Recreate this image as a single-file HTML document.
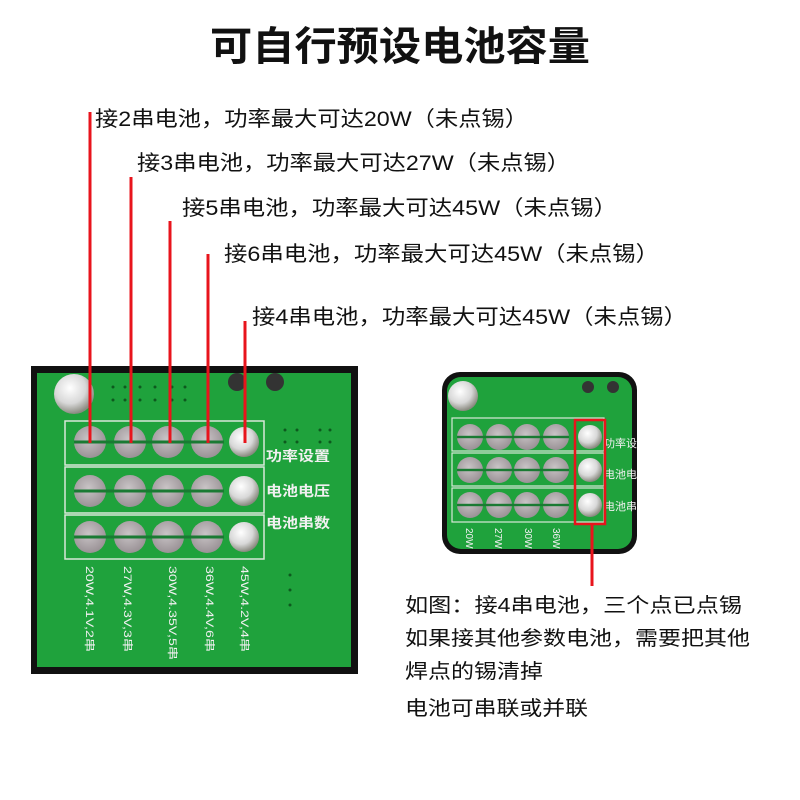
<!DOCTYPE html>
<html><head><meta charset="utf-8"><style>
html,body{margin:0;padding:0;background:#fff;}
svg{display:block;}
text{font-family:"Liberation Sans","Noto Sans CJK SC",sans-serif;}
</style></head><body>
<svg width="800" height="800" viewBox="0 0 800 800" xmlns="http://www.w3.org/2000/svg">
<defs>
<radialGradient id="pad" cx="45%" cy="40%" r="60%"><stop offset="0" stop-color="#c9c4c6"/><stop offset="1" stop-color="#9a9296"/></radialGradient>
<radialGradient id="sol" cx="40%" cy="35%" r="65%"><stop offset="0" stop-color="#ffffff"/><stop offset="0.6" stop-color="#d8d8d8"/><stop offset="1" stop-color="#8a8a80"/></radialGradient>
<g id="row1">
<circle cx="90" cy="0" r="16" fill="url(#pad)"/><circle cx="130" cy="0" r="16" fill="url(#pad)"/><circle cx="168" cy="0" r="16" fill="url(#pad)"/><circle cx="207" cy="0" r="16" fill="url(#pad)"/>
<rect x="74" y="-1.5" width="150" height="3" fill="#1a7a33"/>
<circle cx="244" cy="0" r="15" fill="url(#sol)"/>
</g>
<g id="row2">
<circle cx="470" cy="0" r="13" fill="url(#pad)"/><circle cx="499" cy="0" r="13" fill="url(#pad)"/><circle cx="527" cy="0" r="13" fill="url(#pad)"/><circle cx="556" cy="0" r="13" fill="url(#pad)"/>
<rect x="457" y="-1.2" width="112" height="2.4" fill="#1a7a33"/>
<circle cx="590" cy="0" r="12" fill="url(#sol)"/>
</g>
</defs>
<text x="400" y="60" text-anchor="middle" font-size="40" font-weight="bold" fill="#111" textLength="380" lengthAdjust="spacingAndGlyphs">可自行预设电池容量</text>

<g font-size="21" fill="#111">
<text x="95" y="126" textLength="433" lengthAdjust="spacingAndGlyphs">接2串电池，功率最大可达20W（未点锡）</text>
<text x="137" y="170" textLength="433" lengthAdjust="spacingAndGlyphs">接3串电池，功率最大可达27W（未点锡）</text>
<text x="182" y="215" textLength="435" lengthAdjust="spacingAndGlyphs">接5串电池，功率最大可达45W（未点锡）</text>
<text x="224" y="261" textLength="435" lengthAdjust="spacingAndGlyphs">接6串电池，功率最大可达45W（未点锡）</text>
<text x="252" y="324" textLength="435" lengthAdjust="spacingAndGlyphs">接4串电池，功率最大可达45W（未点锡）</text>
</g>

<!-- left board -->
<rect x="31" y="366" width="327" height="308" fill="#111"/>
<rect x="37" y="373" width="314" height="294" fill="#1fa23c"/>
<circle cx="74" cy="394" r="20" fill="url(#sol)"/>
<circle cx="237" cy="382" r="9" fill="#333"/><circle cx="275" cy="382" r="9" fill="#333"/>
<g fill="#0d5a1e">
<circle cx="113" cy="387" r="1.5"/><circle cx="125" cy="387" r="1.5"/><circle cx="140" cy="387" r="1.5"/><circle cx="155" cy="387" r="1.5"/><circle cx="172" cy="387" r="1.5"/><circle cx="185" cy="387" r="1.5"/>
<circle cx="113" cy="400" r="1.5"/><circle cx="125" cy="400" r="1.5"/><circle cx="140" cy="400" r="1.5"/><circle cx="155" cy="400" r="1.5"/><circle cx="172" cy="400" r="1.5"/><circle cx="185" cy="400" r="1.5"/>
<circle cx="285" cy="430" r="1.5"/><circle cx="297" cy="430" r="1.5"/><circle cx="320" cy="430" r="1.5"/><circle cx="330" cy="430" r="1.5"/>
<circle cx="285" cy="442" r="1.5"/><circle cx="297" cy="442" r="1.5"/><circle cx="320" cy="442" r="1.5"/><circle cx="330" cy="442" r="1.5"/>
<circle cx="290" cy="575" r="1.5"/><circle cx="290" cy="590" r="1.5"/><circle cx="290" cy="605" r="1.5"/>
</g>
<g fill="none" stroke="#d9e8d9" stroke-width="1.5">
<rect x="65" y="421" width="199" height="44"/><rect x="65" y="467" width="199" height="46"/><rect x="65" y="515" width="199" height="44"/>
</g>
<use href="#row1" y="442"/><use href="#row1" y="491"/><use href="#row1" y="537"/>
<g fill="#f0f0f0" font-size="14" font-weight="bold">
<text x="266" y="461" textLength="64" lengthAdjust="spacingAndGlyphs">功率设置</text>
<text x="266" y="496" textLength="64" lengthAdjust="spacingAndGlyphs">电池电压</text>
<text x="266" y="528" textLength="64" lengthAdjust="spacingAndGlyphs">电池串数</text>
</g>
<g fill="#f0f0f0" font-size="11">
<text transform="translate(86,566) rotate(90)" textLength="86" lengthAdjust="spacingAndGlyphs">20W,4.1V,2串</text>
<text transform="translate(124,566) rotate(90)" textLength="86" lengthAdjust="spacingAndGlyphs">27W,4.3V,3串</text>
<text transform="translate(169,566) rotate(90)" textLength="94" lengthAdjust="spacingAndGlyphs">30W,4.35V,5串</text>
<text transform="translate(206,566) rotate(90)" textLength="86" lengthAdjust="spacingAndGlyphs">36W,4.4V,6串</text>
<text transform="translate(241,566) rotate(90)" textLength="86" lengthAdjust="spacingAndGlyphs">45W,4.2V,4串</text>
</g>

<g stroke="#e8141c" stroke-width="3">
<line x1="90" y1="112" x2="90" y2="443"/>
<line x1="131" y1="177" x2="131" y2="443"/>
<line x1="170" y1="221" x2="170" y2="443"/>
<line x1="208" y1="254" x2="208" y2="443"/>
<line x1="245" y1="321" x2="245" y2="443"/>
</g>

<!-- right board -->
<rect x="442" y="372" width="195" height="182" rx="18" fill="#111"/>
<rect x="447" y="377" width="185" height="172" rx="14" fill="#1fa23c"/>
<circle cx="463" cy="396" r="15" fill="url(#sol)"/>
<circle cx="588" cy="387" r="6" fill="#333"/><circle cx="613" cy="387" r="6" fill="#333"/>
<g fill="none" stroke="#d9e8d9" stroke-width="1.2">
<rect x="452" y="418" width="152" height="33"/><rect x="452" y="453" width="152" height="33"/><rect x="452" y="488" width="152" height="34"/>
</g>
<use href="#row2" y="437"/><use href="#row2" y="470"/><use href="#row2" y="505"/>
<g fill="#f0f0f0" font-size="11">
<text x="604" y="447">功率设</text><text x="604" y="478">电池电</text><text x="604" y="510">电池串</text>
</g>
<g fill="#f0f0f0" font-size="10">
<text transform="translate(466,528) rotate(90)">20W</text>
<text transform="translate(495,528) rotate(90)">27W</text>
<text transform="translate(525,528) rotate(90)">30W</text>
<text transform="translate(553,528) rotate(90)">36W</text>
</g>
<rect x="575" y="420" width="30" height="104" fill="none" stroke="#e8141c" stroke-width="2.5"/>
<line x1="592" y1="524" x2="592" y2="586" stroke="#e8141c" stroke-width="3"/>

<g font-size="20" fill="#111">
<text x="405" y="612" textLength="337" lengthAdjust="spacingAndGlyphs">如图：接4串电池，三个点已点锡</text>
<text x="405" y="645" textLength="345" lengthAdjust="spacingAndGlyphs">如果接其他参数电池，需要把其他</text>
<text x="405" y="678" textLength="138" lengthAdjust="spacingAndGlyphs">焊点的锡清掉</text>
<text x="405" y="715" textLength="183" lengthAdjust="spacingAndGlyphs">电池可串联或并联</text>
</g>
</svg>
</body></html>
